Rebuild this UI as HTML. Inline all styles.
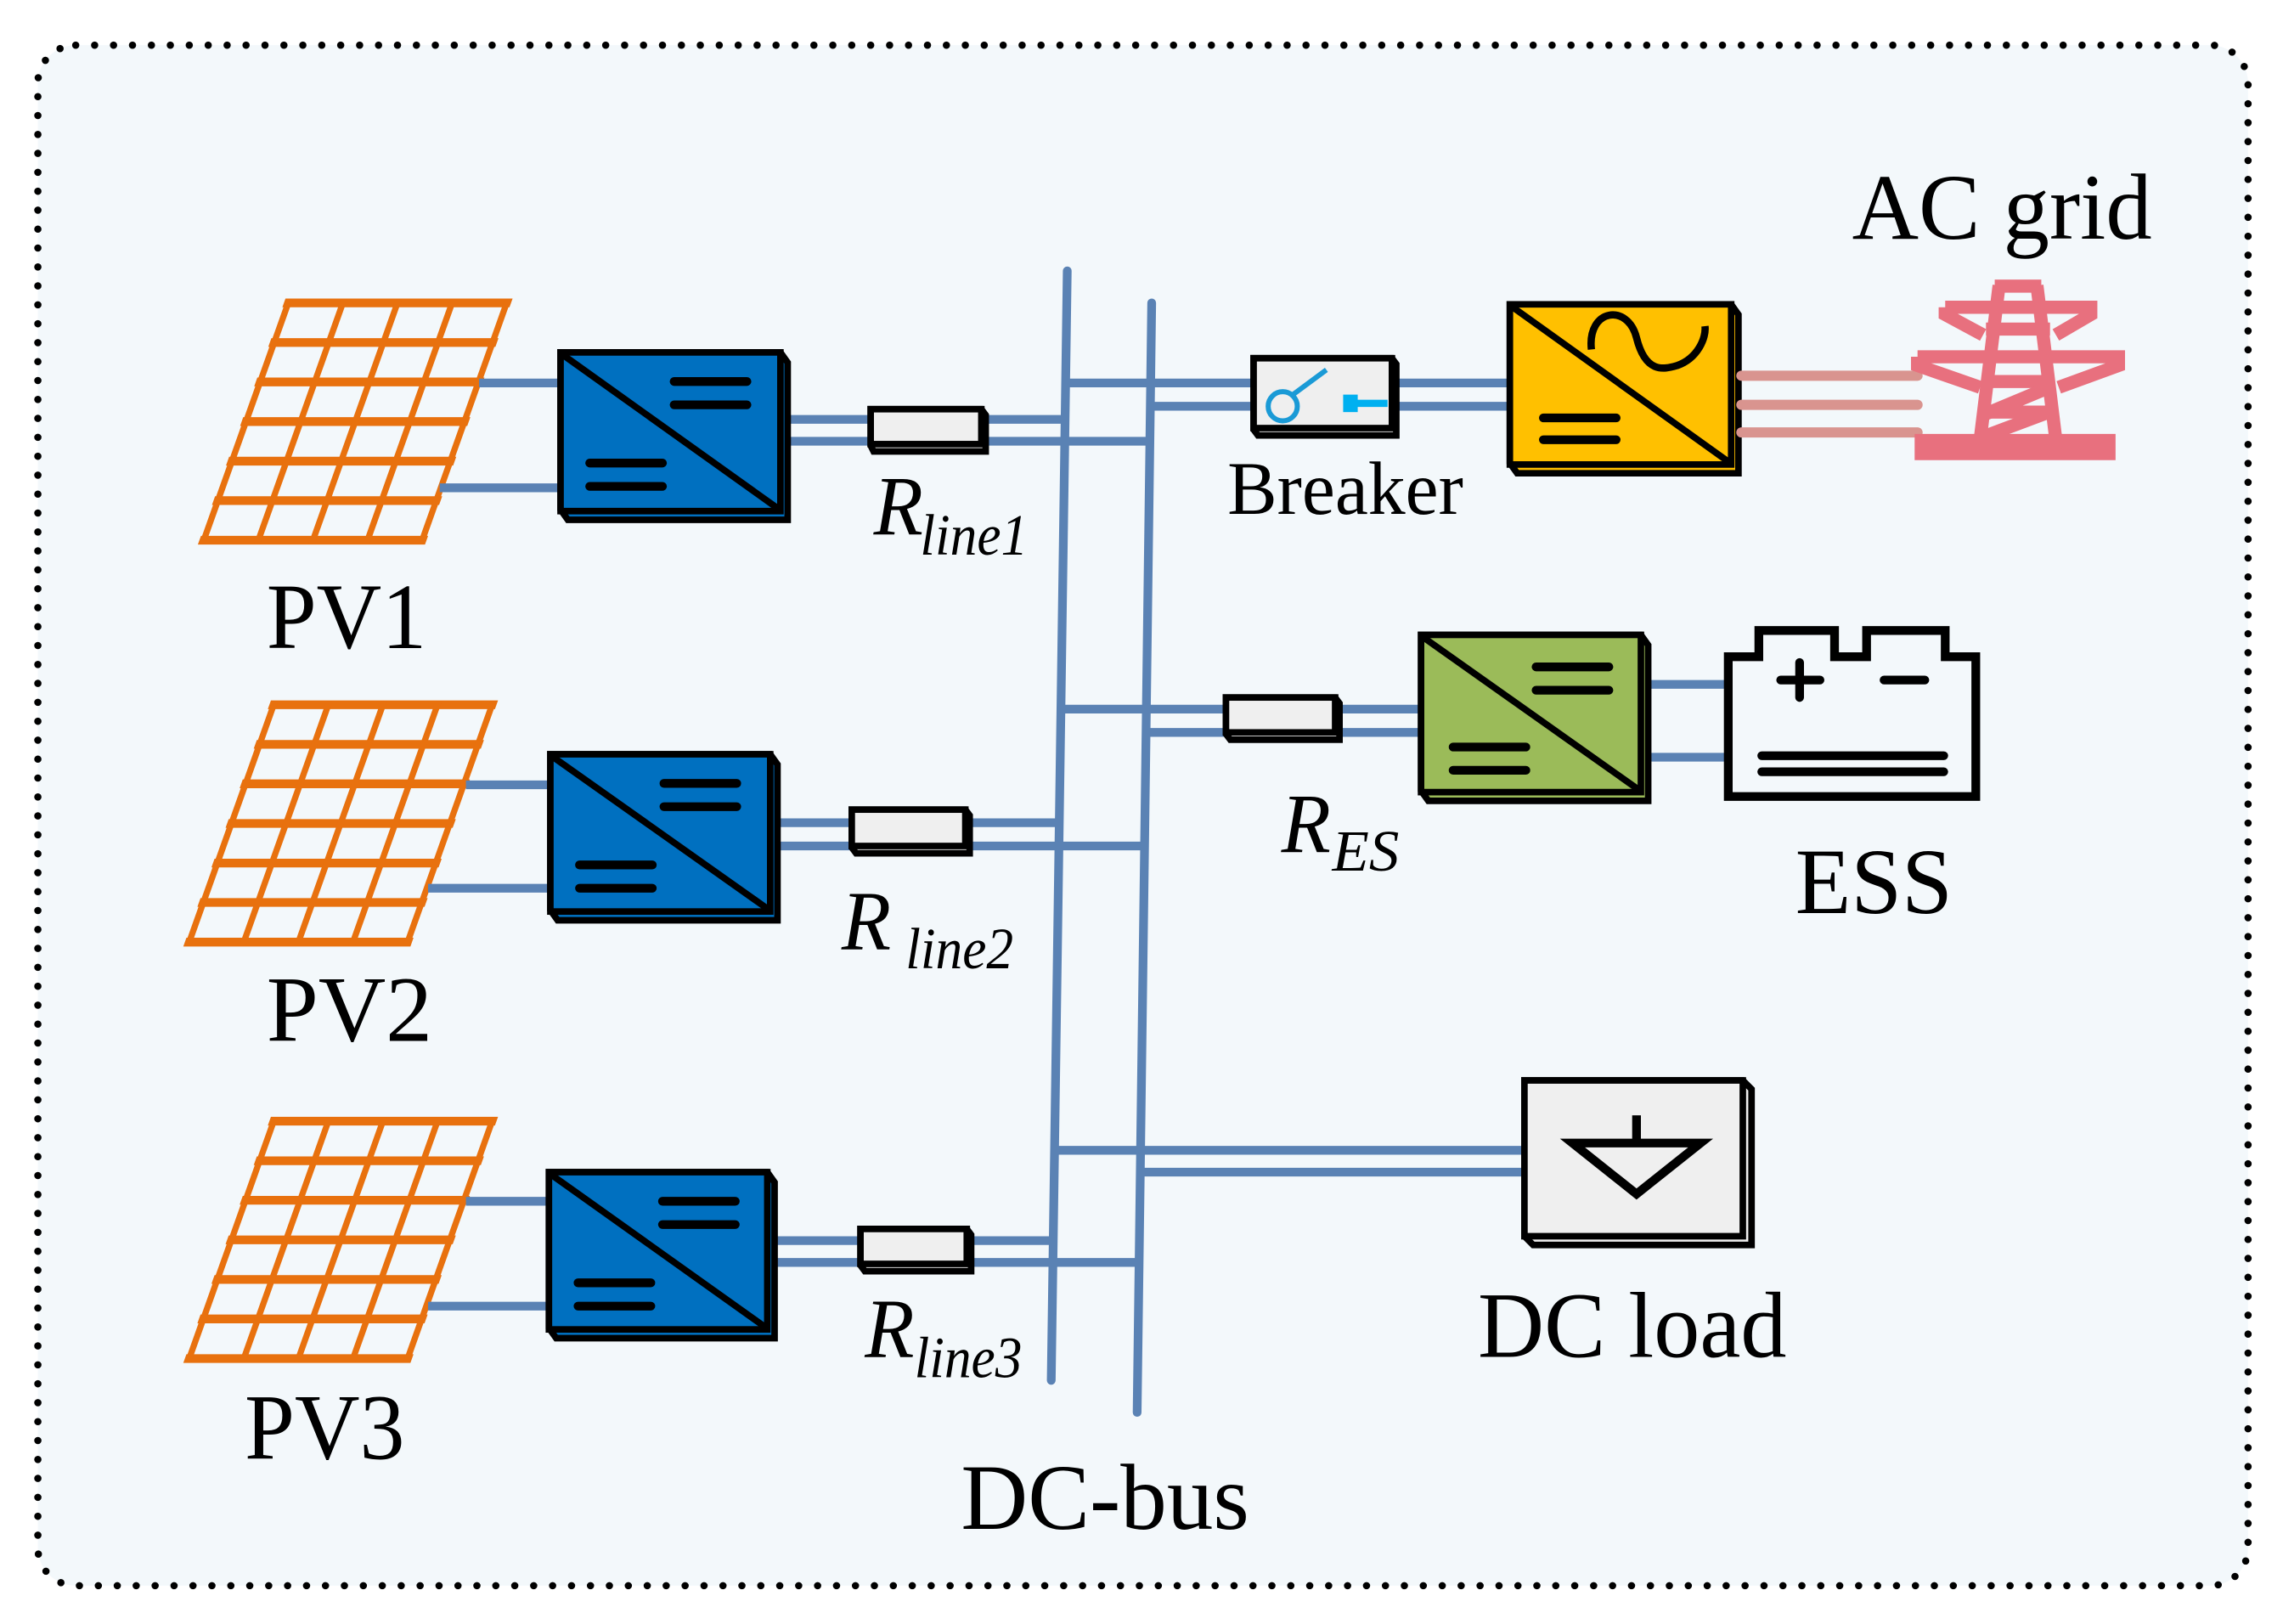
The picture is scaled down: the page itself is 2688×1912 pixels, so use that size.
<!DOCTYPE html>
<html><head><meta charset="utf-8"><style>
html,body{margin:0;padding:0;background:#fff}
svg{display:block}
text{font-family:"Liberation Serif",serif;fill:#000}
</style></head><body>
<svg width="2688" height="1912" viewBox="0 0 1568 1115.3" xmlns="http://www.w3.org/2000/svg">
<defs>
<g id="pv">
  <g stroke="#e8710e" fill="none" stroke-linecap="square">
    <g stroke-width="6">
      <line x1="0" y1="0" x2="150" y2="0"/><line x1="0" y1="27.2" x2="150" y2="27.2"/><line x1="0" y1="54.3" x2="150" y2="54.3"/><line x1="0" y1="81.5" x2="150" y2="81.5"/><line x1="0" y1="108.7" x2="150" y2="108.7"/><line x1="0" y1="135.8" x2="150" y2="135.8"/><line x1="0" y1="163" x2="150" y2="163"/>
    </g>
    <g stroke-width="4.5">
      <line x1="0" y1="0" x2="0" y2="163"/><line x1="37.5" y1="0" x2="37.5" y2="163"/><line x1="75" y1="0" x2="75" y2="163"/><line x1="112.5" y1="0" x2="112.5" y2="163"/><line x1="150" y1="0" x2="150" y2="163"/>
    </g>
  </g>
</g>
</defs>
<rect x="0" y="0" width="1568" height="1116" fill="#fff"/>
<rect x="26" y="31" width="1518" height="1058" rx="26" fill="#f3f8fb" stroke="#000" stroke-width="5" stroke-dasharray="0 13" stroke-linecap="round"/>

<use href="#pv" transform="translate(198,208) skewX(-19.6)"/>
<use href="#pv" transform="translate(188,484) skewX(-19.6)"/>
<use href="#pv" transform="translate(188,770) skewX(-19.6)"/>

<g stroke="#5a82b4" stroke-width="6" fill="none">
  <line x1="329" y1="263" x2="386" y2="263"/><line x1="302" y1="335" x2="386" y2="335"/>
  <line x1="320" y1="539" x2="380" y2="539"/><line x1="294" y1="610" x2="380" y2="610"/>
  <line x1="320" y1="825" x2="378" y2="825"/><line x1="294" y1="897" x2="378" y2="897"/>
  <line x1="540" y1="288" x2="733" y2="288"/><line x1="540" y1="303" x2="791" y2="303"/>
  <line x1="534" y1="565" x2="725" y2="565"/><line x1="534" y1="581" x2="786" y2="581"/>
  <line x1="532" y1="852" x2="722" y2="852"/><line x1="532" y1="867" x2="782" y2="867"/>
  <line x1="733" y1="263" x2="862" y2="263"/><line x1="791" y1="279" x2="862" y2="279"/>
  <line x1="958" y1="263" x2="1038" y2="263"/><line x1="958" y1="279" x2="1038" y2="279"/>
  <line x1="731" y1="487" x2="978" y2="487"/><line x1="789" y1="503" x2="978" y2="503"/>
  <line x1="1133" y1="470" x2="1188" y2="470"/><line x1="1133" y1="520" x2="1188" y2="520"/>
  <line x1="727" y1="790" x2="1048" y2="790"/><line x1="785" y1="805" x2="1048" y2="805"/>
  <line x1="733" y1="186" x2="722" y2="948" stroke-linecap="round"/>
  <line x1="791" y1="208" x2="781" y2="970" stroke-linecap="round"/>
</g>

<g stroke="#000" stroke-width="4.5">
  <path d="M385 242 L536 242 L541 249 L541 357 L390 357 L385 350Z" fill="#0070c0"/>
  <rect x="385" y="242" width="151" height="109" fill="#0070c0"/>
  <line x1="387" y1="244" x2="534" y2="349"/>
  <path d="M378 518 L529 518 L534 525 L534 632 L383 632 L378 625Z" fill="#0070c0"/>
  <rect x="378" y="518" width="151" height="108" fill="#0070c0"/>
  <line x1="380" y1="520" x2="527" y2="624"/>
  <path d="M377 805 L527 805 L532 812 L532 919 L382 919 L377 912Z" fill="#0070c0"/>
  <rect x="377" y="805" width="150" height="108" fill="#0070c0"/>
  <line x1="379" y1="807" x2="525" y2="911"/>
  <path d="M1037 209 L1189 209 L1194 216 L1194 325 L1042 325 L1037 318Z" fill="#ffc000"/>
  <rect x="1037" y="209" width="152" height="110" fill="#ffc000"/>
  <line x1="1039" y1="211" x2="1187" y2="317"/>
  <path d="M976 436 L1127 436 L1132 443 L1132 550 L981 550 L976 543Z" fill="#9bbb59"/>
  <rect x="976" y="436" width="151" height="108" fill="#9bbb59"/>
  <line x1="978" y1="438" x2="1125" y2="542"/>
  <path d="M598 281 L674 281 L677 285 L677 310 L600 310 L598 306Z" fill="#efefef"/><rect x="598" y="281" width="76" height="24" fill="#efefef"/>
  <path d="M585 556 L663 556 L666 560 L666 586 L588 586 L585 582Z" fill="#efefef"/><rect x="585" y="556" width="78" height="25" fill="#efefef"/>
  <path d="M591 844 L664 844 L667 848 L667 873 L594 873 L591 869Z" fill="#efefef"/><rect x="591" y="844" width="73" height="24" fill="#efefef"/>
  <path d="M842 479 L917 479 L920 483 L920 508 L845 508 L842 504Z" fill="#efefef"/><rect x="842" y="479" width="75" height="24" fill="#efefef"/>
  <path d="M861 246 L956 246 L959 250 L959 299 L864 299 L861 295Z" fill="#efefef"/><rect x="861" y="246" width="95" height="48" fill="#efefef"/>
  <path d="M1047 742 L1197 742 L1203 748 L1203 855 L1053 855 L1047 849Z" fill="#efefef"/><rect x="1047" y="742" width="150" height="107" fill="#efefef"/>
</g>

<g stroke="#000" stroke-width="6" stroke-linecap="round">
  <line x1="463" y1="262" x2="513" y2="262"/><line x1="463" y1="278" x2="513" y2="278"/>
  <line x1="405" y1="318" x2="455" y2="318"/><line x1="405" y1="334" x2="455" y2="334"/>
  <line x1="456" y1="538" x2="506" y2="538"/><line x1="456" y1="554" x2="506" y2="554"/>
  <line x1="398" y1="594" x2="448" y2="594"/><line x1="398" y1="610" x2="448" y2="610"/>
  <line x1="455" y1="825" x2="505" y2="825"/><line x1="455" y1="841" x2="505" y2="841"/>
  <line x1="397" y1="881" x2="447" y2="881"/><line x1="397" y1="897" x2="447" y2="897"/>
  <line x1="1060" y1="287" x2="1110" y2="287"/><line x1="1060" y1="302" x2="1110" y2="302"/>
  <line x1="1055" y1="458" x2="1105" y2="458"/><line x1="1055" y1="474" x2="1105" y2="474"/>
  <line x1="998" y1="513" x2="1048" y2="513"/><line x1="998" y1="529" x2="1048" y2="529"/>
</g>
<path d="M1093 240 C1090 212 1118 208 1124 232 C1130 256 1142 254 1152 251 C1166 246 1172 232 1171 224" stroke="#000" stroke-width="5" fill="none"/>

<g stroke="#1a9ad6" stroke-width="3.5" fill="none">
  <circle cx="881" cy="279" r="10"/>
  <line x1="888" y1="271" x2="911" y2="254"/>
</g>
<g stroke="#00b0f0" stroke-width="5">
  <line x1="924" y1="277" x2="953" y2="277"/>
  <line x1="925" y1="271" x2="925" y2="283"/><line x1="930" y1="271" x2="930" y2="283"/>
</g>

<g stroke="#d9948f" stroke-width="7" stroke-linecap="round">
  <line x1="1196" y1="258" x2="1317" y2="258"/>
  <line x1="1196" y1="278" x2="1317" y2="278"/>
  <line x1="1196" y1="297" x2="1317" y2="297"/>
</g>
<g fill="none" stroke="#e8707e" stroke-width="9">
  <path d="M1373 196 L1360 302 M1399 196 L1412 302"/>
  <rect x="1370" y="192" width="32" height="9" fill="#e8707e" stroke="none"/>
  <path d="M1336 211 L1436 211 L1436 216 L1412 230 M1336 211 L1336 216 L1362 230"/>
  <line x1="1364" y1="226" x2="1408" y2="226"/>
  <path d="M1317 245 L1455 245 L1455 251 L1414 266 M1317 245 L1317 251 L1360 266"/>
  <line x1="1362" y1="262" x2="1411" y2="262"/>
  <path d="M1362 285 L1410 265 M1362 300 L1410 282"/>
  <line x1="1364" y1="283" x2="1409" y2="283"/>
</g>
<rect x="1315" y="298" width="138" height="18" fill="#e8707e"/>

<path d="M1187 451 L1208 451 L1208 433 L1260 433 L1260 451 L1282 451 L1282 433 L1336 433 L1336 451 L1357 451 L1357 547 L1187 547 Z" fill="#f3f8fb" stroke="#000" stroke-width="6"/>
<g stroke="#000" stroke-width="6" stroke-linecap="round">
  <line x1="1223" y1="467" x2="1250" y2="467"/><line x1="1236" y1="455" x2="1236" y2="479"/>
  <line x1="1294" y1="467" x2="1322" y2="467"/>
  <line x1="1210" y1="519" x2="1335" y2="519"/>
  <line x1="1210" y1="530" x2="1335" y2="530"/>
</g>

<path d="M1080 785 L1168 785 L1124 820 Z" fill="none" stroke="#000" stroke-width="6"/>
<line x1="1124" y1="766" x2="1124" y2="785" stroke="#000" stroke-width="6"/>

<g font-size="64">
<text x="183" y="445" textLength="110" lengthAdjust="spacingAndGlyphs">PV1</text>
<text x="183" y="715" textLength="114" lengthAdjust="spacingAndGlyphs">PV2</text>
<text x="168" y="1002" textLength="110" lengthAdjust="spacingAndGlyphs">PV3</text>
<text x="660" y="1050" textLength="198" lengthAdjust="spacingAndGlyphs">DC-bus</text>
<text x="1015" y="932" textLength="212" lengthAdjust="spacingAndGlyphs">DC load</text>
<text x="1233" y="627" textLength="108" lengthAdjust="spacingAndGlyphs">ESS</text>
<text x="1272" y="164" textLength="206" lengthAdjust="spacingAndGlyphs">AC grid</text>
</g>
<text x="843" y="353" font-size="52" textLength="162" lengthAdjust="spacingAndGlyphs">Breaker</text>
<g font-style="italic">
<text x="600" y="367" font-size="58" textLength="34" lengthAdjust="spacingAndGlyphs">R</text>
<text x="632" y="381" font-size="40" textLength="74" lengthAdjust="spacingAndGlyphs">line1</text>
<text x="578" y="652" font-size="58" textLength="34" lengthAdjust="spacingAndGlyphs">R</text>
<text x="622" y="665" font-size="40" textLength="74" lengthAdjust="spacingAndGlyphs">line2</text>
<text x="594" y="932" font-size="58" textLength="34" lengthAdjust="spacingAndGlyphs">R</text>
<text x="628" y="946" font-size="40" textLength="74" lengthAdjust="spacingAndGlyphs">line3</text>
<text x="880" y="585" font-size="58" textLength="34" lengthAdjust="spacingAndGlyphs">R</text>
<text x="915" y="598" font-size="40" textLength="46" lengthAdjust="spacingAndGlyphs">ES</text>
</g>
</svg>
</body></html>
